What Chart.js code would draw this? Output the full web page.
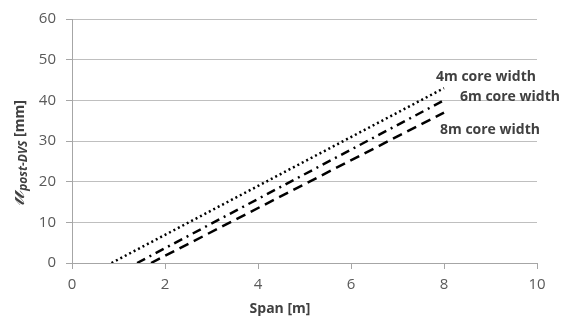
<!DOCTYPE html>
<html>
<head>
<meta charset="utf-8">
<script src="https://cdn.jsdelivr.net/npm/chart.js@4.4.1/dist/chart.umd.min.js"></script>
<style>
  html, body { margin: 0; padding: 0; background: #fff; }
  #wrap { width: 566px; height: 324px; }
</style>
</head>
<body>
<div id="wrap"><canvas id="myChart"></canvas></div>
<script>
// data
const seriesNames = ['4m core width', '6m core width', '8m core width'];
const span4 = [0.85, 8];
const u4 = [0, 43];
const span6 = [1.4, 8];
const u6 = [0, 40];
const span8 = [1.7, 8];
const u8 = [0, 37];
const xTicks = [0, 2, 4, 6, 8, 10];
const yTicks = [0, 10, 20, 30, 40, 50, 60];

const warnaTeks = '#595959';
const warnaGaris = '#bfbfbf';

function toPoints(xs, ys) {
    return xs.map((x, i) => ({ x: x, y: ys[i] }));
}

// label at the end of each line
const labelPlugin = {
    id: 'endLabels',
    afterDatasetsDraw(chart) {
        const c = chart.ctx;
        const offsets = [[-8, -11], [16, -3], [-4, 17]];
        c.save();
        c.font = 'bold 14px "Open Sans"';
        c.fillStyle = '#404040';
        c.textBaseline = 'middle';
        chart.data.datasets.forEach((ds, i) => {
            const meta = chart.getDatasetMeta(i);
            const last = meta.data[meta.data.length - 1];
            c.fillText(ds.label, last.x + offsets[i][0], last.y + offsets[i][1]);
        });
        c.restore();
    }
};

// axis titles (y one has a subscript)
const titlePlugin = {
    id: 'axisTitles',
    afterDraw(chart) {
        const c = chart.ctx;
        c.save();
        c.fillStyle = '#404040';

        // x title
        c.font = 'bold 14px "Open Sans"';
        c.textAlign = 'center';
        c.textBaseline = 'middle';
        c.fillText('Span [m]', 280, 309);

        // y title
        c.textAlign = 'left';
        c.textBaseline = 'alphabetic';
        const main = '\u{1D4CA}';
        const sub = 'post-DVS';
        const tail = ' [mm]';
        c.font = 'italic 26px "DejaVu Serif"';
        const w1 = c.measureText(main).width;
        c.font = 'bold italic 12px "Open Sans"';
        const w2 = c.measureText(sub).width;
        c.font = 'bold 14px "Open Sans"';
        const w3 = c.measureText(tail).width;
        const total = w1 + w2 + w3;
        c.translate(24, 153);
        c.rotate(-Math.PI / 2);
        let x = -total / 2;
        c.font = 'italic 26px "DejaVu Serif"';
        c.fillText(main, x, 0);
        x += w1;
        c.font = 'bold italic 12px "Open Sans"';
        c.fillText(sub, x, 3);
        x += w2;
        c.font = 'bold 14px "Open Sans"';
        c.fillText(tail, x, 0);
        c.restore();
    }
};

document.addEventListener('DOMContentLoaded', function() {
    const ctx = document.getElementById('myChart');
    if (ctx) {
        new Chart(ctx, {
            type: 'scatter',
            data: {
                datasets: [{
                    label: seriesNames[0],
                    data: toPoints(span4, u4),
                    showLine: true,
                    borderColor: '#000',
                    borderWidth: 2.5,
                    borderDash: [2, 3],
                    pointRadius: 0
                }, {
                    label: seriesNames[1],
                    data: toPoints(span6, u6),
                    showLine: true,
                    borderColor: '#000',
                    borderWidth: 2.5,
                    borderDash: [9, 5, 2, 5],
                    pointRadius: 0
                }, {
                    label: seriesNames[2],
                    data: toPoints(span8, u8),
                    showLine: true,
                    borderColor: '#000',
                    borderWidth: 2.5,
                    borderDash: [10, 6],
                    pointRadius: 0
                }]
            },
            options: {
                responsive: true,
                maintainAspectRatio: false,
                animation: false,
                layout: { padding: { left: 0, right: 29, top: 14, bottom: 0 } },
                scales: {
                    x: {
                        type: 'linear',
                        min: 0,
                        max: 10,
                        afterBuildTicks: (s) => { s.ticks = xTicks.map(v => ({ value: v })); },
                        afterFit: (s) => { s.height = 61; },
                        grid: {
                            drawOnChartArea: false,
                            color: '#a6a6a6',
                            tickLength: 6
                        },
                        border: { color: '#a6a6a6' },
                        ticks: {
                            color: warnaTeks,
                            font: { family: 'Open Sans', size: 15 },
                            padding: 7,
                            maxRotation: 0
                        }
                    },
                    y: {
                        type: 'linear',
                        min: 0,
                        max: 60,
                        afterBuildTicks: (s) => { s.ticks = yTicks.map(v => ({ value: v })); },
                        afterFit: (s) => { s.width = 72; },
                        grid: {
                            color: warnaGaris,
                            tickColor: '#a6a6a6',
                            tickLength: 6
                        },
                        border: { color: '#a6a6a6' },
                        ticks: {
                            color: warnaTeks,
                            font: { family: 'Open Sans', size: 15 },
                            padding: 10
                        }
                    }
                },
                plugins: {
                    legend: { display: false },
                    tooltip: { enabled: false }
                }
            },
            plugins: [labelPlugin, titlePlugin]
        });
    }
});
</script>
</body>
</html>
